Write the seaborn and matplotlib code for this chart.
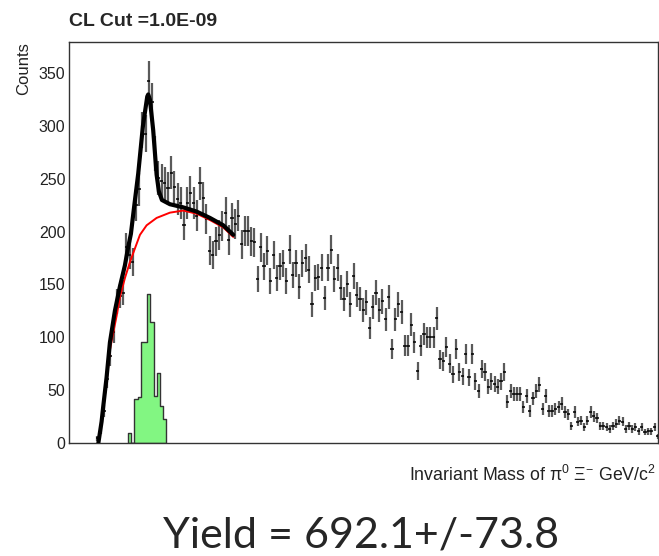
import numpy as np
import pandas as pd
import matplotlib
matplotlib.use("Agg")
import matplotlib.pyplot as plt
from matplotlib.ticker import MultipleLocator
import seaborn as sns

# ---- histogram of pi0 Xi- invariant mass (counts per 5 MeV bin, starting at 1.460) ----
bin_start = 1.460
bin_width = 0.005
counts = [
    4, 12, 30, 60, 82, 105, 134, 139, 142, 185,
    178, 171, 225, 240, 296, 293, 343, 323, 274, 251,
    248, 246, 241, 256, 242, 231, 227, 206, 227, 237,
    227, 215, 246, 232, 212, 182,
    178, 191, 197, 205, 218, 192, 213, 207, 215, 188,
    201, 201, 191, 190, 155, 185, 167, 182, 153, 178,
    156, 167, 170, 153, 183, 159, 170, 148, 170, 175,
    164, 131, 156, 157, 166, 137, 166,
    183, 155, 166, 147, 136, 150, 131, 158, 140, 136,
    126, 133, 109, 129, 142, 126, 134, 117, 138, 89,
    117, 131, 124, 92, 92, 112, 95, 68, 92, 103,
    100, 100, 100, 118, 79, 77, 91, 75, 65, 89,
    67, 63, 84, 62, 84, 58, 49, 70, 67, 53,
    58, 56, 53, 58, 67, 39, 49, 46, 46, 46,
    34, 44, 30, 42, 49, 55, 32, 44, 30, 30,
    32, 34, 37, 29, 27, 16, 29, 20, 21, 15,
    21, 29, 25, 23, 16, 16, 15, 13, 16, 18,
    21, 20, 13, 16, 13, 15, 11, 15, 10, 11,
    11, 15, 6,
]

# ---- background-subtracted signal histogram ----
signal_start = 1.510
signal_counts = [9, 0, 41, 43, 95, 95, 141, 114, 44, 66, 35, 22]

# ---- total fit (signal + background) ----
fit_mass = [1.4639, 1.4689, 1.4714, 1.4767, 1.4819, 1.4897, 1.4975, 1.5053,
            1.5100, 1.5147, 1.5194, 1.5261, 1.5334, 1.5402, 1.5417, 1.5444,
            1.5495, 1.5548, 1.5584, 1.5631, 1.5756, 1.5964, 1.6173, 1.6381,
            1.6589, 1.6745]
fit_counts = [0, 20, 34, 62, 95, 125, 148, 168,
              184, 198, 222, 255, 300, 328, 330, 325,
              296, 254, 238, 230, 226, 223, 219, 213,
              206, 197]

# ---- background-only fit ----
bkg_mass = [1.4631, 1.4689, 1.4767, 1.4819, 1.4870, 1.4923, 1.4975, 1.5053,
            1.5131, 1.5209, 1.5288, 1.5392, 1.5548, 1.5756, 1.5964, 1.6173,
            1.6381, 1.6589, 1.6745]
bkg_counts = [0, 20, 58, 88, 104, 120, 138, 156,
              171, 184, 197, 206, 213, 218, 220, 217,
              211, 204, 195]

title = "CL Cut =1.0E-09"
y_label = "Counts"
x_label = r"Invariant Mass of $\mathregular{\pi^{0}\ \Xi^{-}}$ GeV/c$\mathregular{^{2}}$"
yield_text = "Yield = 692.1+/-73.8"

sns.set_style("white")
plt.rcParams["font.family"] = ["Liberation Sans", "DejaVu Sans"]
plt.rcParams["mathtext.fontset"] = "custom"
plt.rcParams["mathtext.rm"] = "Liberation Sans"
plt.rcParams["mathtext.it"] = "Liberation Sans:italic"

fig = plt.figure(figsize=(6.59, 5.56), dpi=100)
ax = fig.add_axes([69 / 659, 1 - 442.7 / 556, (657.5 - 69) / 659, (442.7 - 41.7) / 556])

# data points with statistical errors
n = len(counts)
y = np.array(counts, dtype=float)
centers = bin_start + bin_width * (np.arange(n) + 0.5)
ax.errorbar(centers, y, yerr=np.sqrt(y), fmt="none", ecolor="#5a5a5a",
            elinewidth=1.6, capsize=0, zorder=2)
ax.errorbar(centers, y, xerr=bin_width / 2, fmt="none", ecolor="black",
            elinewidth=1.1, capsize=0, zorder=3)

# signal histogram
sig = pd.DataFrame({
    "mass": signal_start + bin_width * (np.arange(len(signal_counts)) + 0.5),
    "n": signal_counts,
})
sig_edges = [signal_start + bin_width * i for i in range(len(signal_counts) + 1)]
sns.histplot(data=sig, x="mass", weights="n", bins=sig_edges, element="step",
             fill=True, color="#6cf56c", alpha=0.85, edgecolor="#333333",
             linewidth=1.0, ax=ax, zorder=1)

# fit curves
sns.lineplot(x=bkg_mass, y=bkg_counts, color="red", linewidth=1.4,
             sort=False, estimator=None, ax=ax, zorder=4)
sns.lineplot(x=fit_mass, y=fit_counts, color="black", linewidth=3.0,
             sort=False, estimator=None, ax=ax, zorder=5)

ax.set_xlim(1.418, 2.337)
ax.set_ylim(0, 380)
ax.set_xlabel("")
ax.set_ylabel("")

ax.set_yticks(np.arange(0, 351, 50))
ax.yaxis.set_minor_locator(MultipleLocator(10))
ax.set_xticks([1.893])
ax.set_xticklabels([])
ax.tick_params(axis="y", which="major", direction="in", length=13.5, width=1.0,
               color="#333333", labelsize=11.5, pad=2.5, labelcolor="#222222")
ax.tick_params(axis="y", which="minor", direction="in", length=7.5, width=1.0,
               color="#333333")
ax.tick_params(axis="x", which="major", direction="in", length=4.5, width=1.0,
               color="#333333")
for side in ax.spines.values():
    side.set_color("#333333")
    side.set_linewidth(1.0)

fig.text(69 / 659, 1 - 26 / 556, title, fontsize=14, fontweight="bold",
         ha="left", va="baseline")
fig.text(24 / 659, 1 - 42 / 556, y_label, fontsize=12, rotation=90,
         ha="center", va="top", color="#222222")
fig.text(656 / 659, 1 - 481 / 556, x_label, fontsize=12.8, ha="right",
         va="baseline", color="#222222")
fig.text(361 / 659, 1 - 547 / 556, yield_text, fontsize=31,
         family=["Lato", "DejaVu Sans"], ha="center", va="baseline")

fig.savefig("out.png", dpi=100)
